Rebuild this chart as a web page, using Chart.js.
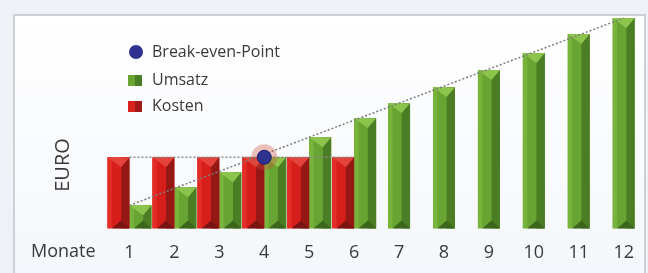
<!DOCTYPE html>
<html>
<head>
<meta charset="utf-8">
<script src="https://cdn.jsdelivr.net/npm/chart.js@4.4.1/dist/chart.umd.min.js"></script>
<style>
  html, body { margin: 0; padding: 0; background: #eef2f7; }
  #wrap { width: 648px; height: 273px; position: relative; }
</style>
</head>
<body>
<div id="wrap"><canvas id="chart"></canvas></div>
<script>
// values (1 px ~ 100 Euro)
const months = [1, 2, 3, 4, 5, 6, 7, 8, 9, 10, 11, 12];
const umsatz = [2300, 4100, 5600, 7100, 9100, 11000, 12500, 14100, 15800, 17500, 19400, 21000];
const kosten = [7100, 7100, 7100, 7100, 7100, 7100, null, null, null, null, null, null];
const breakEvenMonth = 4;
const breakEvenValue = 7100;
const legendLabels = ['Break-even-Point', 'Umsatz', 'Kosten'];
const xTitle = 'Monate';
const yTitle = 'EURO';

const FONT = '"Open Sans", sans-serif';
const TEXT = '#3a3a3a';

const toPoints = (vals) => vals.map((v, i) => ({ x: months[i], y: v }));

// frame, bar shading, legend and axis words
const decor = {
  id: 'decor',
  beforeDraw(chart) {
    const ctx = chart.ctx;
    ctx.save();
    const g = ctx.createLinearGradient(0, 14, 0, 273);
    g.addColorStop(0, '#ffffff');
    g.addColorStop(1, '#f4f7fb');
    ctx.fillStyle = g;
    ctx.fillRect(14, 15, 631, 270);
    ctx.strokeStyle = '#cdd1d6';
    ctx.lineWidth = 2;
    ctx.strokeRect(14, 15, 631, 270);
    ctx.restore();
  },
  afterDatasetDraw(chart, args) {
    const meta = args.meta;
    if (meta.type !== 'bar') return;
    const ds = chart.data.datasets[args.index];
    const ctx = chart.ctx;
    ctx.save();
    meta.data.forEach(bar => {
      if (bar.skip || isNaN(bar.y) || bar.y == null) return;
      const w = bar.width, l = bar.x - w / 2, r = bar.x + w / 2;
      const t = bar.y, b = bar.base;
      const mid = bar.x + w * 0.12;
      const bev = Math.min(w * 0.45, (b - t) / 2);
      ctx.fillStyle = ds.darkColor;
      ctx.fillRect(mid, t, r - mid, b - t);
      ctx.fillStyle = ds.lightColor;
      ctx.fillRect(l, t, w * 0.2, b - t);
      ctx.fillStyle = ds.topColor;
      ctx.beginPath();
      ctx.moveTo(l, t); ctx.lineTo(r, t); ctx.lineTo(mid, t + bev); ctx.closePath();
      ctx.fill();
      ctx.fillStyle = ds.bottomColor;
      ctx.beginPath();
      ctx.moveTo(l + w * 0.2, b); ctx.lineTo(mid, b - bev * 0.8); ctx.lineTo(r, b); ctx.closePath();
      ctx.fill();
    });
    ctx.restore();
  },
  afterDraw(chart) {
    const ctx = chart.ctx;
    ctx.save();
    ctx.fillStyle = TEXT;
    ctx.textBaseline = 'middle';
    ctx.font = '16px ' + FONT;
    const rows = [52, 80, 106];
    legendLabels.forEach((txt, i) => ctx.fillText(txt, 152, rows[i]));
    // markers
    ctx.fillStyle = '#2d3190';
    ctx.beginPath(); ctx.arc(136, rows[0], 7, 0, Math.PI * 2); ctx.fill();
    ctx.fillStyle = '#6aa532';
    ctx.fillRect(128, rows[1] - 5, 14, 11);
    ctx.fillStyle = '#4a7d25';
    ctx.fillRect(135, rows[1] - 5, 7, 11);
    ctx.fillStyle = '#d8231f';
    ctx.fillRect(128, rows[2] - 5, 14, 11);
    ctx.fillStyle = '#a01a18';
    ctx.fillRect(135, rows[2] - 5, 7, 11);
    // axis words
    ctx.fillStyle = TEXT;
    ctx.font = '18px ' + FONT;
    ctx.fillText(xTitle, 31, 252);
    ctx.translate(63, 165);
    ctx.rotate(-Math.PI / 2);
    ctx.textAlign = 'center';
    ctx.font = '20px ' + FONT;
    ctx.fillText(yTitle, 0, 0);
    ctx.restore();
  }
};

new Chart(document.getElementById('chart'), {
  type: 'bar',
  data: {
    datasets: [
      {
        type: 'line',
        label: legendLabels[0],
        data: [{ x: breakEvenMonth, y: breakEvenValue }],
        showLine: false,
        pointRadius: 7,
        pointBackgroundColor: '#2d3190',
        pointBorderColor: '#1d2070',
        pointBorderWidth: 1
      },
      {
        type: 'line',
        label: 'halo',
        data: [{ x: breakEvenMonth, y: breakEvenValue }],
        showLine: false,
        pointRadius: 13,
        pointBackgroundColor: 'rgba(200, 80, 60, 0.35)',
        pointBorderWidth: 0
      },
      {
        type: 'line',
        label: 'trend',
        data: [{ x: months[0], y: umsatz[0] }, { x: months[11], y: umsatz[11] }],
        borderColor: '#7d7d7d',
        borderWidth: 1.5,
        borderDash: [2, 2],
        pointRadius: 0
      },
      {
        type: 'line',
        label: 'kostenlinie',
        data: toPoints(kosten),
        borderColor: '#8a8a8a',
        borderWidth: 1.5,
        borderDash: [2, 2],
        pointRadius: 0
      },
      {
        label: legendLabels[2],
        data: toPoints(kosten),
        backgroundColor: '#d61f1b',
        darkColor: '#951815',
        lightColor: '#e42d27',
        topColor: '#e5423b',
        bottomColor: '#7a1412',
        skipNull: true,
        maxBarThickness: 22,
        barPercentage: 1,
        categoryPercentage: 0.98
      },
      {
        label: legendLabels[1],
        data: toPoints(umsatz),
        backgroundColor: '#68a431',
        darkColor: '#4b7e24',
        lightColor: '#78b43c',
        topColor: '#8cc44c',
        bottomColor: '#3b661c',
        skipNull: true,
        maxBarThickness: 22,
        barPercentage: 1,
        categoryPercentage: 0.98
      }
    ]
  },
  options: {
    responsive: true,
    maintainAspectRatio: false,
    animation: false,
    layout: { autoPadding: false, padding: { left: 107, right: 0, top: 17, bottom: -5 } },
    plugins: { legend: { display: false }, tooltip: { enabled: false } },
    scales: {
      x: {
        type: 'linear',
        bounds: 'data',
        min: 0.5,
        max: 12.35,
        offset: false,
        grid: { display: false, drawTicks: false },
        border: { display: false },
        afterBuildTicks: axis => { axis.ticks = months.map(v => ({ value: v })); },
        ticks: {
          autoSkip: false,
          maxRotation: 0,
          padding: 14,
          color: TEXT,
          font: { family: FONT, size: 18 }
        }
      },
      y: {
        display: false,
        min: 0,
        max: 21100
      }
    }
  },
  plugins: [decor]
});
</script>
</body>
</html>
